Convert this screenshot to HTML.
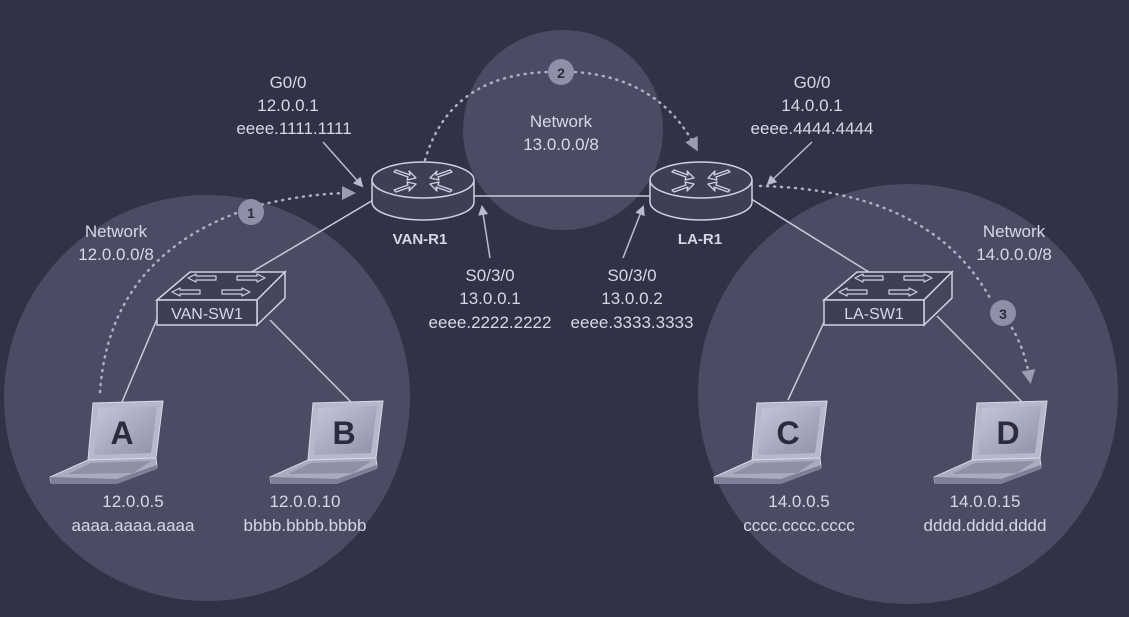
<!DOCTYPE html>
<html><head><meta charset="utf-8"><style>
html,body{margin:0;padding:0;background:#313246;}
svg{display:block}
text{font-family:"Liberation Sans",sans-serif;fill:#d6d8e6;font-size:17px;text-anchor:middle}
</style></head><body>
<svg width="1129" height="617" viewBox="0 0 1129 617" xmlns="http://www.w3.org/2000/svg">
<defs>
<linearGradient id="scr" x1="0" y1="0" x2="1" y2="1"><stop offset="0" stop-color="#c4c7d8"/><stop offset="1" stop-color="#8f92a8"/></linearGradient>
<g id="lap">
 <polygon points="0,0 70,-2 63,55 -5,57" fill="#b6b9cb" stroke="#d8dae6" stroke-width="1"/>
 <polygon points="5,5 64,3 58,50 1,52" fill="url(#scr)"/>
 <polygon points="-5,57 63,55 64,64 24,80 -42,80 -43,74" fill="#a9acbf" stroke="#d8dae6" stroke-width="1"/>
 <polygon points="-2,60 58,58 40,70 -25,71" fill="#8e91a6"/>
 <polygon points="-43,74 24,76 64,62 64,66 24,81 -42,81" fill="#7d8096"/>
</g>
<marker id="ah" markerWidth="10" markerHeight="10" refX="8" refY="5" orient="auto" markerUnits="userSpaceOnUse"><polygon points="0,0 10,5 0,10" fill="#b9bccf"/></marker>
<marker id="ah2" markerWidth="14" markerHeight="14" refX="10" refY="7" orient="auto" markerUnits="userSpaceOnUse"><polygon points="0,0 14,7 0,14" fill="#9a9db2"/></marker>
</defs>
<rect width="1129" height="617" fill="#313246"/>
<circle cx="207" cy="398" r="203" fill="#4a4c63"/>
<circle cx="908" cy="394" r="210" fill="#4a4c63"/>
<circle cx="563" cy="130" r="100" fill="#4a4c63"/>

<g stroke="#c9cbda" stroke-width="1.5" fill="none">
<line x1="380" y1="196" x2="250" y2="273"/>
<line x1="470" y1="196" x2="655" y2="196"/>
<line x1="748" y1="197" x2="872" y2="274"/>
<line x1="160" y1="312" x2="122" y2="402"/>
<line x1="270" y1="320" x2="352" y2="403"/>
<line x1="826" y1="318" x2="788" y2="400"/>
<line x1="937" y1="316" x2="1022" y2="402"/>
</g>

<g stroke="#aeb1c4" stroke-width="2.5" fill="none" stroke-dasharray="1 6" stroke-linecap="round">
<path d="M100 392 Q110 250 260 205 Q310 193 352 193" marker-end="url(#ah2)"/>
<path d="M425 160 Q450 75 548 72 M575 72 Q660 78 696 148" marker-end="url(#ah2)"/>
<path d="M760 186 Q930 190 990 298 M1012 328 Q1025 350 1030 380" marker-end="url(#ah2)"/>
</g>

<g id="r1">
<path d="M372 180 v22 a51 18 0 0 0 102 0 v-22" fill="#3d3f55" stroke="#d0d2e0" stroke-width="1.5"/>
<ellipse cx="423" cy="180" rx="51" ry="18" fill="#3d3f55" stroke="#d0d2e0" stroke-width="1.5"/>
<g stroke="#d0d2e0" stroke-width="1.3" fill="none" stroke-linejoin="round">
<path d="M396 170 l14 5 l-1 -4 l7 7 l-9 2 l1 -3 l-14 -5z"/>
<path d="M450 170 l-14 5 l1 -4 l-7 7 l9 2 l-1 -3 l14 -5z"/>
<path d="M396 192 l14 -5 l-1 4 l7 -7 l-9 -2 l1 3 l-14 5z"/>
<path d="M450 192 l-14 -5 l1 4 l-7 -7 l9 -2 l-1 3 l14 5z"/>
</g>
</g>
<use href="#r1" x="278" y="0"/>

<g id="sw">
<polygon points="157,300 190,272 285,272 257,300" fill="#3d3f55" stroke="#d0d2e0" stroke-width="1.5"/>
<polygon points="257,300 285,272 285,298 257,325" fill="#44465c" stroke="#d0d2e0" stroke-width="1.5"/>
<rect x="157" y="300" width="100" height="25" fill="#3d3f55" stroke="#d0d2e0" stroke-width="1.5"/>
<g stroke="#d0d2e0" stroke-width="1.2" fill="none" stroke-linejoin="round">
<path d="M188 278 l8 -4 v2 h20 v4 h-20 v2z"/>
<path d="M265 278 l-8 -4 v2 h-20 v4 h20 v2z"/>
<path d="M172 292 l8 -4 v2 h20 v4 h-20 v2z"/>
<path d="M250 292 l-8 -4 v2 h-20 v4 h20 v2z"/>
</g>
</g>
<use href="#sw" x="667" y="0"/>
<text x="207" y="319" style="font-size:16px">VAN-SW1</text>
<text x="874" y="319" style="font-size:16px">LA-SW1</text>

<use href="#lap" x="93" y="403"/>
<use href="#lap" x="313" y="403"/>
<use href="#lap" x="757" y="403"/>
<use href="#lap" x="977" y="403"/>
<text x="122" y="444" style="fill:#2a2b3c;font-size:32px;font-weight:bold">A</text>
<text x="344" y="444" style="fill:#2a2b3c;font-size:32px;font-weight:bold">B</text>
<text x="788" y="444" style="fill:#2a2b3c;font-size:32px;font-weight:bold">C</text>
<text x="1008" y="444" style="fill:#2a2b3c;font-size:32px;font-weight:bold">D</text>

<g stroke="#b9bccf" stroke-width="1.5">
<line x1="323" y1="142" x2="362" y2="186" marker-end="url(#ah)"/>
<line x1="812" y1="142" x2="768" y2="184" marker-end="url(#ah)"/>
<line x1="490" y1="258" x2="482" y2="207" marker-end="url(#ah)"/>
<line x1="623" y1="258" x2="643" y2="207" marker-end="url(#ah)"/>
</g>

<circle cx="251" cy="212" r="13" fill="#8d90a6"/><text x="251" y="218" style="fill:#2a2b3c;font-weight:bold;font-size:14px">1</text>
<circle cx="561" cy="72" r="13" fill="#8d90a6"/><text x="561" y="78" style="fill:#2a2b3c;font-weight:bold;font-size:14px">2</text>
<circle cx="1003" cy="313" r="13" fill="#8d90a6"/><text x="1003" y="319" style="fill:#2a2b3c;font-weight:bold;font-size:14px">3</text>

<text x="288" y="88">G0/0</text><text x="288" y="111">12.0.0.1</text><text x="294" y="134">eeee.1111.1111</text>
<text x="812" y="88">G0/0</text><text x="812" y="111">14.0.0.1</text><text x="812" y="134">eeee.4444.4444</text>
<text x="561" y="127">Network</text><text x="561" y="150">13.0.0.0/8</text>
<text x="116" y="237">Network</text><text x="116" y="260">12.0.0.0/8</text>
<text x="1014" y="237">Network</text><text x="1014" y="260">14.0.0.0/8</text>
<text x="420" y="244" style="font-weight:bold;font-size:15px">VAN-R1</text>
<text x="700" y="244" style="font-weight:bold;font-size:15px">LA-R1</text>
<text x="490" y="281">S0/3/0</text><text x="490" y="304">13.0.0.1</text><text x="490" y="328">eeee.2222.2222</text>
<text x="632" y="281">S0/3/0</text><text x="632" y="304">13.0.0.2</text><text x="632" y="328">eeee.3333.3333</text>
<text x="133" y="507">12.0.0.5</text><text x="133" y="531">aaaa.aaaa.aaaa</text>
<text x="305" y="507">12.0.0.10</text><text x="305" y="531">bbbb.bbbb.bbbb</text>
<text x="799" y="507">14.0.0.5</text><text x="799" y="531">cccc.cccc.cccc</text>
<text x="985" y="507">14.0.0.15</text><text x="985" y="531">dddd.dddd.dddd</text>
</svg>
</body></html>
